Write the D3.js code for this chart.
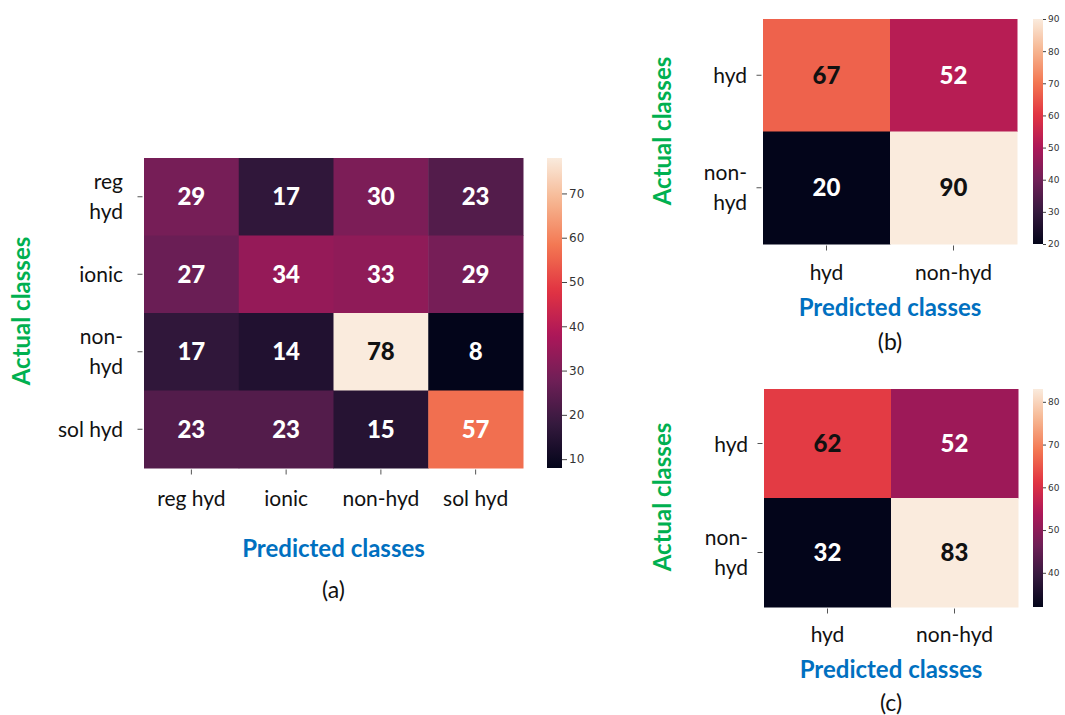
<!DOCTYPE html>
<html>
<head>
<meta charset="utf-8">
<script src="https://cdn.jsdelivr.net/npm/d3@7"></script>
<style>
  html, body { margin: 0; padding: 0; background: #fff; }
  svg { display: block; }
</style>
</head>
<body>
<svg id="fig" width="1065" height="715"></svg>
<script>
// ---- data ----
const classesA = ["reg hyd", "ionic", "non-hyd", "sol hyd"];
const rowLabelsA = [["reg", "hyd"], ["ionic"], ["non-", "hyd"], ["sol hyd"]];
const matrixA = [
  [29, 17, 30, 23],
  [27, 34, 33, 29],
  [17, 14, 78, 8],
  [23, 23, 15, 57]
];
const ticksA = [10, 20, 30, 40, 50, 60, 70];

const classesBC = ["hyd", "non-hyd"];
const rowLabelsBC = [["hyd"], ["non-", "hyd"]];
const matrixB = [
  [67, 52],
  [20, 90]
];
const ticksB = [20, 30, 40, 50, 60, 70, 80, 90];

const matrixC = [
  [62, 52],
  [32, 83]
];
const ticksC = [40, 50, 60, 70, 80];

// seaborn "rocket" colour map anchors
const rocketStops = ["#03051a", "#35193e", "#701f57", "#ad1759", "#e13342", "#f37651", "#f6b48f", "#faebdd"];
const rocket = d3.piecewise(d3.interpolateRgb, rocketStops);

const svg = d3.select("#fig");
const defs = svg.append("defs");

const GREEN = "#00b050";
const BLUE = "#0070c0";
const LABEL_FONT = "Lato, 'Open Sans', sans-serif";

function luminance(c) {
  const rgb = d3.rgb(c);
  const lin = v => { v /= 255; return v <= 0.03928 ? v / 12.92 : Math.pow((v + 0.055) / 1.055, 2.4); };
  return 0.2126 * lin(rgb.r) + 0.7152 * lin(rgb.g) + 0.0722 * lin(rgb.b);
}

function drawPanel(cfg) {
  const { id, matrix, cols, rowLabels, box, cbar, ticks, lumThreshold, layout } = cfg;
  const flat = matrix.flat();
  const vmin = d3.min(flat), vmax = d3.max(flat);
  const color = d3.scaleSequential(rocket).domain([vmin, vmax]);

  const x = d3.scaleBand().domain(d3.range(cols.length)).range([box.x0, box.x1]);
  const y = d3.scaleBand().domain(d3.range(rowLabels.length)).range([box.y0, box.y1]);

  const g = svg.append("g").attr("class", "panel-" + id);

  // cells
  const cells = [];
  matrix.forEach((row, r) => row.forEach((v, c) => cells.push({ r, c, v })));
  g.selectAll("rect.cell").data(cells).join("rect")
    .attr("class", "cell")
    .attr("x", d => x(d.c))
    .attr("y", d => y(d.r))
    .attr("width", x.bandwidth() + 0.5)
    .attr("height", y.bandwidth() + 0.5)
    .attr("fill", d => color(d.v));

  // annotations
  g.selectAll("text.val").data(cells).join("text")
    .attr("class", "val")
    .attr("x", d => x(d.c) + x.bandwidth() / 2)
    .attr("y", d => y(d.r) + y.bandwidth() / 2)
    .attr("dy", "0.36em")
    .attr("text-anchor", "middle")
    .attr("font-family", LABEL_FONT)
    .attr("font-weight", 900)
    .attr("font-size", layout.valSize)
    .attr("fill", d => luminance(color(d.v)) > lumThreshold ? "#111111" : "#ffffff")
    .text(d => d.v);

  // tick marks (bottom and left)
  const xAxis = d3.axisBottom(x).tickSize(5).tickSizeOuter(0).tickFormat("");
  g.append("g").attr("transform", `translate(0,${box.y1 + 1.5})`).call(xAxis)
    .call(s => s.select(".domain").remove())
    .call(s => s.selectAll("line").attr("stroke", "#555"));
  const yAxis = d3.axisLeft(y).tickSize(5).tickSizeOuter(0).tickFormat("");
  g.append("g").attr("transform", `translate(${box.x0 - 1.5},0)`).call(yAxis)
    .call(s => s.select(".domain").remove())
    .call(s => s.selectAll("line").attr("stroke", "#555"));

  // column labels
  g.selectAll("text.xl").data(cols).join("text")
    .attr("class", "xl")
    .attr("x", (d, i) => x(i) + x.bandwidth() / 2)
    .attr("y", box.y1 + layout.xLabelOff)
    .attr("text-anchor", "middle")
    .attr("font-family", LABEL_FONT)
    .attr("font-size", layout.tickSize)
    .attr("fill", "#111")
    .text(d => d);

  // row labels (may wrap onto two lines)
  rowLabels.forEach((lines, i) => {
    const cy = y(i) + y.bandwidth() / 2;
    const t = g.append("text")
      .attr("text-anchor", "end")
      .attr("font-family", LABEL_FONT)
      .attr("font-size", layout.tickSize)
      .attr("fill", "#111");
    lines.forEach((ln, k) => {
      const by = lines.length === 1 ? cy + 8 : cy - 8 + k * 30;
      t.append("tspan").attr("x", box.x0 - layout.yLabelGap).attr("y", by).text(ln);
    });
  });

  // axis titles
  const cx = (box.x0 + box.x1) / 2;
  g.append("text")
    .attr("x", cx).attr("y", layout.predY)
    .attr("text-anchor", "middle")
    .attr("font-family", LABEL_FONT)
    .attr("font-weight", 700)
    .attr("font-size", layout.titleSize)
    .attr("fill", BLUE)
    .text("Predicted classes");

  g.append("text")
    .attr("transform", `translate(${layout.actX},${layout.actY}) rotate(-90)`)
    .attr("text-anchor", "middle")
    .attr("dy", "0.35em")
    .attr("font-family", LABEL_FONT)
    .attr("font-weight", 700)
    .attr("font-size", layout.titleSize)
    .attr("fill", GREEN)
    .text("Actual classes");

  g.append("text")
    .attr("x", cx).attr("y", layout.capY)
    .attr("text-anchor", "middle")
    .attr("font-family", LABEL_FONT)
    .attr("font-size", layout.capSize)
    .attr("fill", "#111")
    .text(`(${id})`);

  // colour bar
  const gradId = "grad-" + id;
  const grad = defs.append("linearGradient").attr("id", gradId)
    .attr("x1", 0).attr("y1", 1).attr("x2", 0).attr("y2", 0);
  d3.range(0, 1.0001, 0.02).forEach(t => {
    grad.append("stop").attr("offset", t).attr("stop-color", rocket(t));
  });
  g.append("rect")
    .attr("x", cbar.x).attr("y", box.y0)
    .attr("width", cbar.w).attr("height", box.y1 - box.y0)
    .attr("fill", `url(#${gradId})`);

  const cScale = d3.scaleLinear().domain([vmin, vmax]).range([box.y1, box.y0]);
  g.append("g")
    .attr("transform", `translate(${cbar.x + cbar.w},0)`)
    .call(d3.axisRight(cScale).tickValues(ticks).tickSize(cbar.tick).tickPadding(2))
    .call(s => s.select(".domain").remove())
    .call(s => s.selectAll("line").attr("stroke", "#444"))
    .call(s => s.selectAll("text")
      .attr("font-family", "'DejaVu Sans', sans-serif")
      .attr("font-size", cbar.font)
      .attr("fill", "#333"));
}

drawPanel({
  id: "a",
  matrix: matrixA,
  cols: classesA,
  rowLabels: rowLabelsA,
  box: { x0: 144, x1: 523, y0: 158, y1: 468 },
  cbar: { x: 547, w: 15, tick: 5, font: 12 },
  ticks: ticksA,
  lumThreshold: 0.408,
  layout: { valSize: 24, tickSize: 21, xLabelOff: 38, yLabelGap: 21, titleSize: 24, capSize: 23,
            predY: 557, actX: 22, actY: 311, capY: 598 }
});

drawPanel({
  id: "b",
  matrix: matrixB,
  cols: classesBC,
  rowLabels: rowLabelsBC,
  box: { x0: 763, x1: 1017, y0: 19, y1: 244 },
  cbar: { x: 1033, w: 10, tick: 3, font: 9 },
  ticks: ticksB,
  lumThreshold: 0.15,
  layout: { valSize: 24, tickSize: 21, xLabelOff: 36, yLabelGap: 16, titleSize: 24, capSize: 23,
            predY: 316, actX: 663, actY: 131, capY: 350 }
});

drawPanel({
  id: "c",
  matrix: matrixC,
  cols: classesBC,
  rowLabels: rowLabelsBC,
  box: { x0: 764, x1: 1018, y0: 389, y1: 607 },
  cbar: { x: 1033, w: 10, tick: 3, font: 9 },
  ticks: ticksC,
  lumThreshold: 0.15,
  layout: { valSize: 24, tickSize: 21, xLabelOff: 35, yLabelGap: 16, titleSize: 24, capSize: 23,
            predY: 678, actX: 663, actY: 497, capY: 711 }
});
</script>
</body>
</html>
